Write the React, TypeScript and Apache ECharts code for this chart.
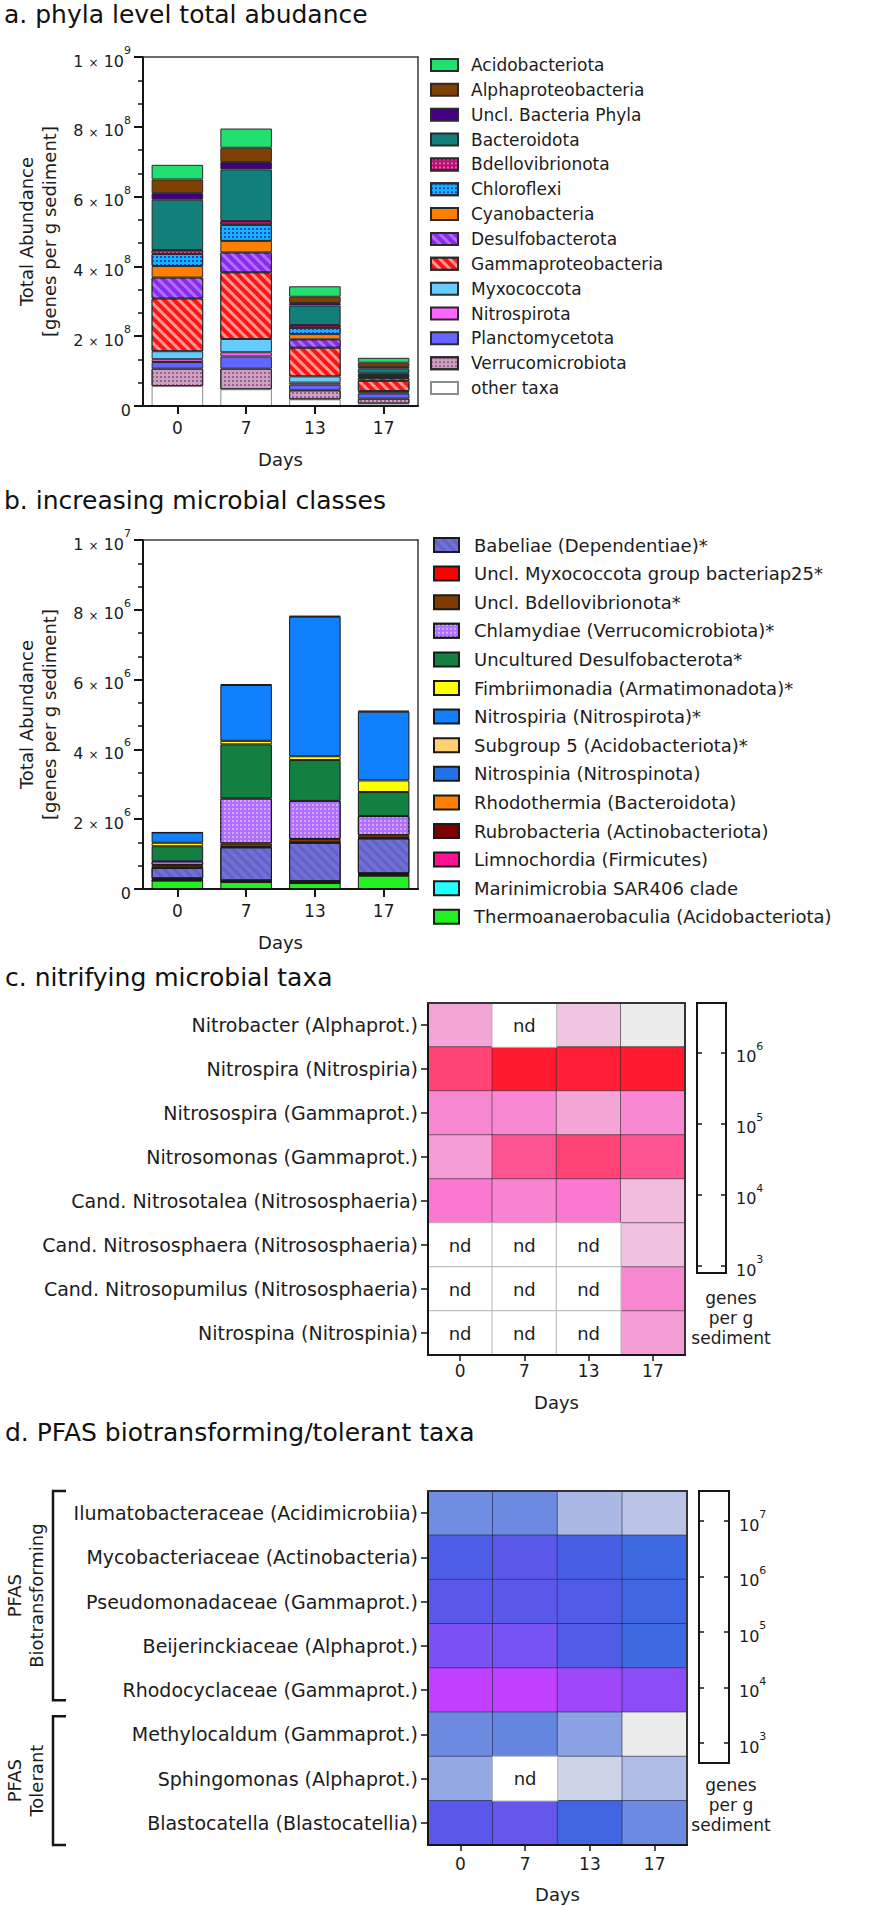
import React, { useEffect, useRef } from 'react';
import * as echarts from 'echarts';

// ---------------- data ----------------
const days = ['0', '7', '13', '17'];

// panel a (stack order bottom -> top)
const phyla = ['other taxa', 'Verrucomicrobiota', 'Planctomycetota', 'Nitrospirota', 'Myxococcota', 'Gammaproteobacteria', 'Desulfobacterota', 'Cyanobacteria', 'Chloroflexi', 'Bdellovibrionota', 'Bacteroidota', 'Uncl. Bacteria Phyla', 'Alphaproteobacteria', 'Acidobacteriota'];
const otherTaxa = [5.7e7, 4.8e7, 1.9e7, 0.7e7];
const verrucomicrobiota = [5.0e7, 5.9e7, 2.6e7, 1.4e7];
const planctomycetota = [1.9e7, 3.5e7, 1.6e7, 1.5e7];
const nitrospirota = [0.8e7, 1.2e7, 0.6e7, 0.3e7];
const myxococcota = [2.3e7, 3.8e7, 1.8e7, 0.4e7];
const gammaproteobacteria = [15.1e7, 19.1e7, 8.2e7, 2.9e7];
const desulfobacterota = [6.0e7, 5.7e7, 2.4e7, 0.8e7];
const cyanobacteria = [3.3e7, 3.3e7, 1.5e7, 0.3e7];
const chloroflexi = [3.5e7, 4.6e7, 1.8e7, 0.6e7];
const bdellovibrionota = [1.1e7, 1.1e7, 0.8e7, 0.4e7];
const bacteroidota = [14.4e7, 14.8e7, 5.6e7, 1.4e7];
const unclBacteriaPhyla = [1.9e7, 2.1e7, 0.7e7, 0.5e7];
const alphaproteobacteria = [3.9e7, 4.1e7, 1.8e7, 1.2e7];
const acidobacteriota = [4.2e7, 5.5e7, 3.0e7, 1.4e7];
const phylaValues = [otherTaxa, verrucomicrobiota, planctomycetota, nitrospirota, myxococcota, gammaproteobacteria, desulfobacterota, cyanobacteria, chloroflexi, bdellovibrionota, bacteroidota, unclBacteriaPhyla, alphaproteobacteria, acidobacteriota];

// panel b (stack order bottom -> top)
const classes = ['Thermoanaerobaculia (Acidobacteriota)', 'Marinimicrobia SAR406 clade', 'Limnochordia (Firmicutes)', 'Rubrobacteria (Actinobacteriota)', 'Rhodothermia (Bacteroidota)', 'Nitrospinia (Nitrospinota)', 'Babeliae (Dependentiae)*', 'Uncl. Myxococcota group bacteriap25*', 'Uncl. Bdellovibrionota*', 'Chlamydiae (Verrucomicrobiota)*', 'Uncultured Desulfobacterota*', 'Fimbriimonadia (Armatimonadota)*', 'Nitrospiria (Nitrospirota)*', 'Subgroup 5 (Acidobacteriota)*'];
const thermoanaerobaculia = [0.24e6, 0.2e6, 0.17e6, 0.38e6];
const marinimicrobia = [0.005e6, 0.005e6, 0.005e6, 0.01e6];
const limnochordia = [0.01e6, 0.01e6, 0.01e6, 0.01e6];
const rubrobacteria = [0.02e6, 0.01e6, 0.02e6, 0.02e6];
const rhodothermia = [0.02e6, 0.01e6, 0.01e6, 0.02e6];
const nitrospinia = [0.01e6, 0.01e6, 0.01e6, 0.01e6];
const babeliae = [0.30e6, 0.95e6, 1.1e6, 1.0e6];
const unclMyxococcota = [0.01e6, 0.01e6, 0.01e6, 0.01e6];
const unclBdellovibrionota = [0.07e6, 0.1e6, 0.1e6, 0.08e6];
const chlamydiae = [0.11e6, 1.29e6, 1.09e6, 0.55e6];
const unculturedDesulfobacterota = [0.43e6, 1.55e6, 1.17e6, 0.69e6];
const fimbriimonadia = [0.10e6, 0.1e6, 0.11e6, 0.33e6];
const nitrospiria = [0.29e6, 1.6e6, 4.0e6, 1.97e6];
const subgroup5 = [0.01e6, 0.02e6, 0.02e6, 0.03e6];
const classValues = [thermoanaerobaculia, marinimicrobia, limnochordia, rubrobacteria, rhodothermia, nitrospinia, babeliae, unclMyxococcota, unclBdellovibrionota, chlamydiae, unculturedDesulfobacterota, fimbriimonadia, nitrospiria, subgroup5];
const classLegendOrder = ['Babeliae (Dependentiae)*', 'Uncl. Myxococcota group bacteriap25*', 'Uncl. Bdellovibrionota*', 'Chlamydiae (Verrucomicrobiota)*', 'Uncultured Desulfobacterota*', 'Fimbriimonadia (Armatimonadota)*', 'Nitrospiria (Nitrospirota)*', 'Subgroup 5 (Acidobacteriota)*', 'Nitrospinia (Nitrospinota)', 'Rhodothermia (Bacteroidota)', 'Rubrobacteria (Actinobacteriota)', 'Limnochordia (Firmicutes)', 'Marinimicrobia SAR406 clade', 'Thermoanaerobaculia (Acidobacteriota)'];

// panel c (genes per g sediment, null = nd), rows top -> bottom
const nitrifyingTaxa = ['Nitrobacter (Alphaprot.)', 'Nitrospira (Nitrospiria)', 'Nitrosospira (Gammaprot.)', 'Nitrosomonas (Gammaprot.)', 'Cand. Nitrosotalea (Nitrososphaeria)', 'Cand. Nitrososphaera (Nitrososphaeria)', 'Cand. Nitrosopumilus (Nitrososphaeria)', 'Nitrospina (Nitrospinia)'];
const nitrobacter = [2.0e4, null, 5.6e3, 1.0e3];
const nitrospira = [8.0e5, 3.2e6, 2.8e6, 3.2e6];
const nitrosospira = [7.0e4, 7.0e4, 2.0e4, 7.0e4];
const nitrosomonas = [2.8e4, 4.5e5, 8.0e5, 4.5e5];
const nitrosotalea = [1.26e5, 8.0e4, 1.26e5, 8.0e3];
const nitrososphaera = [null, null, null, 6.3e3];
const nitrosopumilus = [null, null, null, 7.0e4];
const nitrospina = [null, null, null, 2.8e4];
const nitrifyingValues = [nitrobacter, nitrospira, nitrosospira, nitrosomonas, nitrosotalea, nitrososphaera, nitrosopumilus, nitrospina];

// panel d
const pfasTaxa = ['Ilumatobacteraceae (Acidimicrobiia)', 'Mycobacteriaceae (Actinobacteria)', 'Pseudomonadaceae (Gammaprot.)', 'Beijerinckiaceae (Alphaprot.)', 'Rhodocyclaceae (Gammaprot.)', 'Methylocaldum (Gammaprot.)', 'Sphingomonas (Alphaprot.)', 'Blastocatella (Blastocatellia)'];
const ilumatobacteraceae = [9.0e4, 1.1e5, 1.0e4, 5.0e3];
const mycobacteriaceae = [1.6e6, 4.0e6, 1.1e6, 4.0e5];
const pseudomonadaceae = [4.0e6, 4.0e6, 2.0e6, 5.6e5];
const beijerinckiaceae = [1.1e7, 9.0e6, 2.0e6, 4.0e5];
const rhodocyclaceae = [4.0e7, 4.0e7, 2.2e7, 1.6e7];
const methylocaldum = [1.1e5, 1.4e5, 3.2e4, 4.0e2];
const sphingomonas = [2.2e4, null, 2.0e3, 8.0e3];
const blastocatella = [4.0e6, 5.6e6, 5.6e5, 1.1e5];
const pfasValues = [ilumatobacteraceae, mycobacteriaceae, pseudomonadaceae, beijerinckiaceae, rhodocyclaceae, methylocaldum, sphingomonas, blastocatella];
const pfasGroups = [{ label: 'PFAS\nBiotransforming', first: 0, last: 4 }, { label: 'PFAS\nTolerant', first: 5, last: 7 }];

// ---------------- styles ----------------
const FONT = 'DejaVu Sans';
const TXT = '#1c1c1c';
const AX = '#151515';

const stripes = (color: string) => ({ symbol: 'rect', symbolSize: 1, dashArrayX: [1, 0], dashArrayY: [3, 4], rotation: Math.PI / 4, color });
const dots = (color: string) => ({ symbol: 'rect', symbolSize: 1, dashArrayX: [2, 2], dashArrayY: [2, 2], color });

const phylaStyle: Record<string, any> = {
  'other taxa': { color: '#ffffff', borderColor: '#8c8c8c' },
  Verrucomicrobiota: { color: '#c9a3bf', decal: dots('#a45a90') },
  Planctomycetota: { color: '#6464ff' },
  Nitrospirota: { color: '#ff66ff' },
  Myxococcota: { color: '#66ccff' },
  Gammaproteobacteria: { color: '#ff1414', decal: stripes('rgba(255,255,255,0.55)') },
  Desulfobacterota: { color: '#8a2af0', decal: stripes('rgba(190,140,255,0.7)') },
  Cyanobacteria: { color: '#ff8000' },
  Chloroflexi: { color: '#14b4ff', decal: dots('#1446d0') },
  Bdellovibrionota: { color: '#b3126e', decal: dots('#e060b0') },
  Bacteroidota: { color: '#127f7a' },
  'Uncl. Bacteria Phyla': { color: '#420080' },
  Alphaproteobacteria: { color: '#804000' },
  Acidobacteriota: { color: '#22e070' },
};
const classStyle: Record<string, any> = {
  'Thermoanaerobaculia (Acidobacteriota)': { color: '#22f022' },
  'Marinimicrobia SAR406 clade': { color: '#22ffff' },
  'Limnochordia (Firmicutes)': { color: '#ff1090' },
  'Rubrobacteria (Actinobacteriota)': { color: '#800000' },
  'Rhodothermia (Bacteroidota)': { color: '#ff8000' },
  'Nitrospinia (Nitrospinota)': { color: '#2470e8' },
  'Babeliae (Dependentiae)*': { color: '#7070d6', decal: stripes('rgba(80,80,180,0.45)') },
  'Uncl. Myxococcota group bacteriap25*': { color: '#ff0000' },
  'Uncl. Bdellovibrionota*': { color: '#803c00' },
  'Chlamydiae (Verrucomicrobiota)*': { color: '#b070ff', decal: dots('#d4a8ff') },
  'Uncultured Desulfobacterota*': { color: '#128040' },
  'Fimbriimonadia (Armatimonadota)*': { color: '#ffff00' },
  'Nitrospiria (Nitrospirota)*': { color: '#1080ff' },
  'Subgroup 5 (Acidobacteriota)*': { color: '#ffd070' },
};
const cColors = ['#ebebeb', '#f0c8e0', '#f4a0d4', '#fa78d0', '#ff4a80', '#ff1a30'];
const dColors = ['#ebebeb', '#d8dce8', '#c0c8e6', '#a4b4e6', '#849ce2', '#6888e0', '#3d6ae0', '#4a5ee4', '#5a58e8', '#8050f4', '#c040ff'];

// layout
const A = { left: 143, top: 57, width: 275, height: 349 };
const B = { left: 143, top: 540, width: 275, height: 349 };
const C = { left: 428, top: 1003, width: 257, height: 352 };
const CB = { left: 697, top: 1003, width: 29, height: 270 };
const D = { left: 428, top: 1491, width: 259, height: 354 };
const DB = { left: 699, top: 1491, width: 30, height: 272 };

const supRich = {
  n: { fontFamily: FONT, fontSize: 16, color: TXT, lineHeight: 24, verticalAlign: 'bottom' },
  x: { fontFamily: FONT, fontSize: 12, color: TXT, lineHeight: 24, verticalAlign: 'bottom' },
  s: { fontFamily: FONT, fontSize: 11, color: TXT, lineHeight: 12, verticalAlign: 'top' },
};
const sciLabel = (v: number) => {
  if (v === 0) return '{n|0}';
  const e = Math.floor(Math.log10(v) + 1e-9);
  const m = Math.round(v / Math.pow(10, e));
  return `{n|${m} }{x|×}{n| 10}{s|${e}}`;
};
const powLabel = (v: number) => {
  const l = Math.log10(v);
  const e = Math.round(l);
  if (Math.abs(l - e) > 1e-6) return '';
  return `{n|10}{s|${e}}`;
};

const axLine = { show: true, onZero: false, lineStyle: { color: AX, width: 2 } };
const frameLine = { show: true, onZero: false, lineStyle: { color: '#3a3a3a', width: 1.5 } };
const nameStyle = { fontFamily: FONT, fontSize: 18, color: TXT };

function barXAxis(gridIndex: number) {
  return [
    {
      type: 'category', gridIndex, data: days, position: 'bottom', z: 5,
      axisLine: axLine,
      axisTick: { show: true, alignWithLabel: true, length: 8, lineStyle: { color: AX, width: 2 } },
      axisLabel: { fontFamily: FONT, fontSize: 17, color: TXT, margin: 13 },
      name: 'Days', nameLocation: 'middle', nameGap: 44, nameTextStyle: nameStyle,
    },
    { type: 'category', gridIndex, data: days, position: 'top', z: 5, axisLine: frameLine, axisTick: { show: false }, axisLabel: { show: false } },
  ];
}
function barYAxis(gridIndex: number, max: number, interval: number) {
  return [
    {
      type: 'value', gridIndex, min: 0, max, interval, position: 'left', z: 5,
      name: 'Total Abundance\n[genes per g sediment]', nameLocation: 'middle', nameGap: 82, nameRotate: 90,
      nameTextStyle: { ...nameStyle, lineHeight: 23 },
      axisLine: axLine,
      axisTick: { show: true, length: 9, lineStyle: { color: AX, width: 2 } },
      minorTick: { show: true, splitNumber: 3, length: 5, lineStyle: { color: AX, width: 1.5 } },
      splitLine: { show: false },
      axisLabel: { formatter: sciLabel, rich: supRich, margin: 12 },
    },
    { type: 'value', gridIndex, min: 0, max, position: 'right', z: 5, axisLine: frameLine, axisTick: { show: false }, axisLabel: { show: false }, splitLine: { show: false } },
  ];
}
function heatXAxis(gridIndex: number, margin: number, nameGap: number) {
  return [
    {
      type: 'category', gridIndex, data: days, position: 'bottom', z: 5,
      axisLine: axLine,
      axisTick: { show: true, alignWithLabel: true, length: 6, lineStyle: { color: AX, width: 1.5 } },
      axisLabel: { fontFamily: FONT, fontSize: 17, color: TXT, margin },
      splitLine: { show: false },
      name: 'Days', nameLocation: 'middle', nameGap, nameTextStyle: nameStyle,
    },
    { type: 'category', gridIndex, data: days, position: 'top', z: 5, axisLine: { show: true, onZero: false, lineStyle: { color: '#333', width: 2 } }, axisTick: { show: false }, axisLabel: { show: false } },
  ];
}
function heatYAxis(gridIndex: number, rows: string[]) {
  return [
    {
      type: 'category', gridIndex, data: rows, inverse: true, position: 'left', z: 5,
      axisLine: axLine,
      axisTick: { show: true, alignWithLabel: true, length: 7, lineStyle: { color: AX, width: 1.5 } },
      axisLabel: { fontFamily: FONT, fontSize: 19, color: TXT, margin: 10 },
      splitLine: { show: false },
    },
    { type: 'category', gridIndex, data: rows, inverse: true, position: 'right', z: 5, axisLine: { show: true, onZero: false, lineStyle: { color: '#333', width: 2 } }, axisTick: { show: false }, axisLabel: { show: false } },
  ];
}
function scaleYAxis(gridIndex: number, min: number, max: number) {
  return [
    {
      type: 'log', logBase: 10, gridIndex, min, max, position: 'right', z: 5,
      axisLine: axLine,
      axisTick: { show: true, inside: true, length: 5, lineStyle: { color: AX, width: 1.5 } },
      axisLabel: { formatter: powLabel, rich: supRich, margin: 10, showMinLabel: false, showMaxLabel: false },
      splitLine: { show: false }, minorTick: { show: false },
    },
    {
      type: 'log', logBase: 10, gridIndex, min, max, position: 'left', z: 5,
      axisLine: axLine,
      axisTick: { show: true, inside: true, length: 5, lineStyle: { color: AX, width: 1.5 } },
      axisLabel: { show: false }, splitLine: { show: false }, minorTick: { show: false },
    },
  ];
}

function heatData(values: (number | null)[][]) {
  const out: number[][] = [];
  values.forEach((row, r) => row.forEach((v, c) => { if (v !== null) out.push([c, r, Math.log10(v)]); }));
  return out;
}
function ndData(values: (number | null)[][]) {
  const out: number[][] = [];
  values.forEach((row, r) => row.forEach((v, c) => { if (v === null) out.push([c, r, 0]); }));
  return out;
}

function buildOption() {
  const series: any[] = [];
  phyla.forEach((name, i) => {
    const st = phylaStyle[name];
    series.push({
      type: 'bar', name, xAxisIndex: 0, yAxisIndex: 0, stack: 'a', data: phylaValues[i], barWidth: '75%',
      itemStyle: { color: st.color, borderColor: st.borderColor || '#2a2a2a', borderWidth: 1, decal: st.decal },
      emphasis: { disabled: true },
    });
  });
  classes.forEach((name, i) => {
    const st = classStyle[name];
    series.push({
      type: 'bar', name, xAxisIndex: 2, yAxisIndex: 2, stack: 'b', data: classValues[i], barWidth: '75%',
      itemStyle: { color: st.color, borderColor: '#1a1a1a', borderWidth: 1, decal: st.decal },
      emphasis: { disabled: true },
    });
  });
  const cIdx = series.length;
  series.push({
    type: 'heatmap', xAxisIndex: 4, yAxisIndex: 4, data: heatData(nitrifyingValues),
    itemStyle: { borderColor: 'rgba(40,40,40,0.55)', borderWidth: 1 }, emphasis: { disabled: true },
  });
  const cNd = series.length;
  series.push({
    type: 'heatmap', xAxisIndex: 4, yAxisIndex: 4, data: ndData(nitrifyingValues),
    itemStyle: { borderColor: '#b5b5b5', borderWidth: 1 }, emphasis: { disabled: true },
    label: { show: true, formatter: 'nd', fontFamily: FONT, fontSize: 18, color: TXT },
  });
  const dIdx = series.length;
  series.push({
    type: 'heatmap', xAxisIndex: 7, yAxisIndex: 8, data: heatData(pfasValues),
    itemStyle: { borderColor: 'rgba(30,30,60,0.55)', borderWidth: 1 }, emphasis: { disabled: true },
  });
  const dNd = series.length;
  series.push({
    type: 'heatmap', xAxisIndex: 7, yAxisIndex: 8, data: ndData(pfasValues),
    itemStyle: { borderColor: '#b5b5b5', borderWidth: 1 }, emphasis: { disabled: true },
    label: { show: true, formatter: 'nd', fontFamily: FONT, fontSize: 18, color: TXT },
  });

  const rowH = D.height / pfasTaxa.length;
  const graphic: any[] = [];
  pfasGroups.forEach((g, gi) => {
    const y0 = D.top + g.first * rowH + (gi === 0 ? 0 : 4);
    const y1 = D.top + (g.last + 1) * rowH - (gi === 0 ? 12 : 0);
    graphic.push({ type: 'polyline', z: 100, shape: { points: [[66, y0], [53, y0], [53, y1], [66, y1]] }, style: { stroke: AX, lineWidth: 2.5, fill: null } });
    graphic.push({
      type: 'text', z: 100, x: 25, y: (y0 + y1) / 2, rotation: Math.PI / 2,
      style: { text: g.label, fontFamily: FONT, fontSize: 18, fill: TXT, align: 'center', verticalAlign: 'middle', textAlign: 'center', textVerticalAlign: 'middle', lineHeight: 22 },
    });
  });
  [CB, DB].forEach((cb, i) => {
    graphic.push({
      type: 'text', z: 100, x: 731, y: i === 0 ? cb.top + cb.height + 15 : cb.top + cb.height + 12,
      style: { text: 'genes\nper g\nsediment', fontFamily: FONT, fontSize: 17, fill: TXT, align: 'center', verticalAlign: 'top', textAlign: 'center', textVerticalAlign: 'top', lineHeight: 20 },
    });
  });

  const titleStyle = { fontFamily: FONT, fontSize: 25, fontWeight: 'normal', color: '#111' };
  const legendBase = { orient: 'vertical', icon: 'rect', selectedMode: false };

  return {
    animation: false,
    backgroundColor: '#ffffff',
    title: [
      { text: 'a. phyla level total abudance', left: 4, top: 2, padding: 0, textStyle: titleStyle },
      { text: 'b. increasing microbial classes', left: 4, top: 488, padding: 0, textStyle: titleStyle },
      { text: 'c. nitrifying microbial taxa', left: 5, top: 965, padding: 0, textStyle: titleStyle },
      { text: 'd. PFAS biotransforming/tolerant taxa', left: 5, top: 1420, padding: 0, textStyle: titleStyle },
    ],
    legend: [
      {
        ...legendBase, left: 430, top: 56.5, itemWidth: 27, itemHeight: 12, itemGap: 7.85, padding: 0,
        data: [...phyla].reverse(),
        textStyle: { fontFamily: FONT, fontSize: 17, color: TXT, lineHeight: 17, padding: [0, 0, 0, 8] },
      },
      {
        ...legendBase, left: 433, top: 536, itemWidth: 25, itemHeight: 14, itemGap: 10.6, padding: 0,
        data: classLegendOrder,
        textStyle: { fontFamily: FONT, fontSize: 18, color: TXT, lineHeight: 18, padding: [0, 0, 0, 10] },
      },
    ],
    grid: [
      { ...A, containLabel: false },
      { ...B, containLabel: false },
      { ...C, containLabel: false },
      { ...CB, containLabel: false, show: true, backgroundColor: '#ffffff', borderColor: AX, borderWidth: 2 },
      { ...D, containLabel: false },
      { ...DB, containLabel: false, show: true, backgroundColor: '#ffffff', borderColor: AX, borderWidth: 2 },
    ],
    xAxis: [
      ...barXAxis(0),
      ...barXAxis(1),
      ...heatXAxis(2, 7, 38),
      { type: 'value', gridIndex: 3, show: false, min: 0, max: 1 },
      ...heatXAxis(4, 10, 40),
      { type: 'value', gridIndex: 5, show: false, min: 0, max: 1 },
    ],
    yAxis: [
      ...barYAxis(0, 1e9, 2e8),
      ...barYAxis(1, 1e7, 2e6),
      ...heatYAxis(2, nitrifyingTaxa),
      ...scaleYAxis(3, 800, 5e6),
      ...heatYAxis(4, pfasTaxa),
      ...scaleYAxis(5, 440, 3.5e7),
    ],
    visualMap: [
      { type: 'continuous', show: false, seriesIndex: cIdx, dimension: 2, min: 3, max: 6.5, inRange: { color: cColors } },
      { type: 'continuous', show: false, seriesIndex: dIdx, dimension: 2, min: 2.6, max: 7.6, inRange: { color: dColors } },
      { type: 'continuous', show: false, seriesIndex: [cNd, dNd], dimension: 2, min: 0, max: 1, inRange: { color: ['#ffffff', '#ffffff'] } },
    ],
    series,
    graphic,
  };
}

export default function App() {
  const ref = useRef<HTMLDivElement>(null);
  useEffect(() => {
    document.body.style.margin = '0';
    if (!ref.current) return;
    const chart = echarts.init(ref.current, undefined, { renderer: 'svg' });
    chart.setOption(buildOption() as any);
    return () => chart.dispose();
  }, []);
  return <div ref={ref} style={{ width: 894, height: 1906, background: '#fff' }} />;
}
